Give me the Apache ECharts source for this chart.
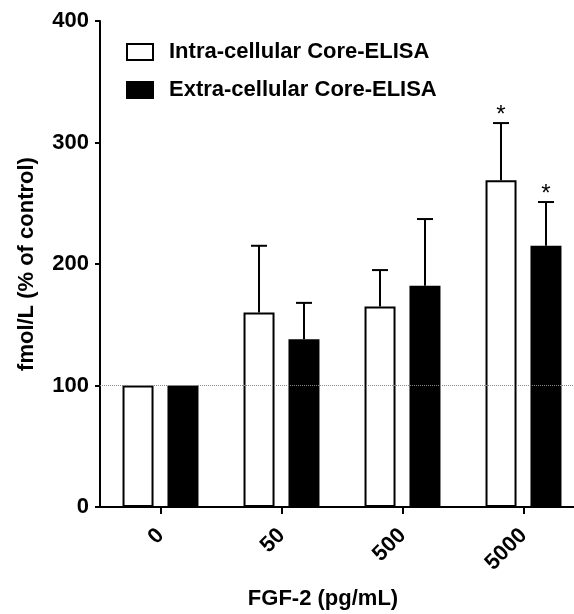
<!DOCTYPE html>
<html>
<head>
<meta charset="utf-8">
<script src="https://cdn.jsdelivr.net/npm/echarts@6/dist/echarts.min.js"></script>
<style>
  html, body { margin: 0; padding: 0; background: #fff; }
  #chart { width: 574px; height: 614px; }
</style>
</head>
<body>
<div id="chart"></div>
<script>
var categories = ['0', '50', '500', '5000'];
var intraMean = [100, 160, 165, 269];
var intraSd = [0, 55, 30, 47];
var extraMean = [100, 138, 182, 215];
var extraSd = [0, 30, 55, 36];
var intraSig = ['', '', '', '*'];
var extraSig = ['', '', '', '*'];
var yTicks = [0, 100, 200, 300, 400];

var FONT = '"Liberation Sans", Arial, Helvetica, sans-serif';
var BAR_W = 31;
var OFFSET = 22.5;

function errData(mean, sd, sig) {
    var out = [];
    for (var i = 0; i < mean.length; i++) {
        out.push([i, mean[i], mean[i] + sd[i], sig[i]]);
    }
    return out;
}

function errRender(offset) {
    return function(params, api) {
        var top = api.coord([api.value(0), api.value(2)]);
        var base = api.coord([api.value(0), api.value(1)]);
        var x = top[0] + offset;
        var children = [];
        if (api.value(2) > api.value(1)) {
            children.push({
                type: 'line',
                shape: { x1: x, y1: base[1], x2: x, y2: top[1] },
                style: { stroke: '#000', lineWidth: 2 }
            });
            children.push({
                type: 'line',
                shape: { x1: x - 8, y1: top[1], x2: x + 8, y2: top[1] },
                style: { stroke: '#000', lineWidth: 2 }
            });
        }
        var sig = api.value(3);
        if (sig) {
            children.push({
                type: 'text',
                x: x,
                y: top[1] - 8,
                style: {
                    text: sig,
                    fill: '#000',
                    font: '24px ' + FONT,
                    align: 'center',
                    verticalAlign: 'middle'
                }
            });
        }
        return { type: 'group', children: children };
    };
}

var chart = echarts.init(document.getElementById('chart'), null, { renderer: 'canvas' });

var option = {
    animation: false,
    backgroundColor: '#fff',
    textStyle: { fontFamily: FONT },
    grid: {
        left: 100, width: 484, top: 21, height: 486,
        containLabel: false,
        outerBoundsMode: 'none'
    },
    legend: {
        orient: 'vertical',
        left: 126,
        top: 41,
        padding: 0,
        itemWidth: 26,
        itemHeight: 16,
        itemGap: 16,
        icon: 'rect',
        data: ['Intra-cellular Core-ELISA', 'Extra-cellular Core-ELISA'],
        textStyle: {
            fontFamily: FONT,
            fontSize: 22,
            fontWeight: 'bold',
            color: '#000',
            padding: [0, 0, 0, 11]
        }
    },
    xAxis: {
        type: 'category',
        data: categories,
        axisLine: { lineStyle: { color: '#000', width: 2 } },
        axisTick: { show: true, alignWithLabel: true, length: 7, lineStyle: { color: '#000', width: 2 } },
        axisLabel: {
            rotate: 45,
            margin: 25,
            color: '#000',
            fontFamily: FONT,
            fontSize: 22,
            fontWeight: 'bold'
        },
        splitLine: { show: false }
    },
    yAxis: {
        type: 'value',
        min: 0,
        max: 400,
        interval: 100,
        name: 'fmol/L (% of control)',
        nameLocation: 'middle',
        nameGap: 62,
        nameTextStyle: { color: '#000', fontFamily: FONT, fontSize: 22, fontWeight: 'bold' },
        axisLine: { show: true, lineStyle: { color: '#000', width: 2 } },
        axisTick: { show: true, length: 5, lineStyle: { color: '#000', width: 2 } },
        axisLabel: {
            margin: 11,
            color: '#000',
            fontFamily: FONT,
            fontSize: 22,
            fontWeight: 'bold',
            formatter: function(v) { return yTicks.indexOf(v) >= 0 ? String(v) : ''; }
        },
        splitLine: { show: false }
    },
    graphic: [{
        type: 'text',
        x: 323,
        y: 599,
        style: {
            text: 'FGF-2 (pg/mL)',
            fill: '#000',
            font: 'bold 22px ' + FONT,
            align: 'center',
            verticalAlign: 'middle'
        }
    }],
    series: [
        {
            name: 'ref',
            type: 'line',
            data: [],
            z: 0,
            markLine: {
                silent: true,
                symbol: 'none',
                label: { show: false },
                lineStyle: { color: '#888', type: 'dotted', width: 1 },
                data: [{ yAxis: 100 }]
            }
        },
        {
            name: 'Intra-cellular Core-ELISA',
            type: 'bar',
            data: intraMean,
            barWidth: BAR_W,
            barGap: '45%',
            z: 3,
            itemStyle: { color: '#fff', borderColor: '#000', borderWidth: 2 }
        },
        {
            name: 'Extra-cellular Core-ELISA',
            type: 'bar',
            data: extraMean,
            barWidth: BAR_W,
            barGap: '45%',
            z: 3,
            itemStyle: { color: '#000', borderColor: '#000', borderWidth: 2 }
        },
        {
            type: 'custom',
            name: 'intraErr',
            data: errData(intraMean, intraSd, intraSig),
            renderItem: errRender(-OFFSET),
            z: 2
        },
        {
            type: 'custom',
            name: 'extraErr',
            data: errData(extraMean, extraSd, extraSig),
            renderItem: errRender(OFFSET),
            z: 2
        }
    ]
};

chart.setOption(option);
</script>
</body>
</html>
